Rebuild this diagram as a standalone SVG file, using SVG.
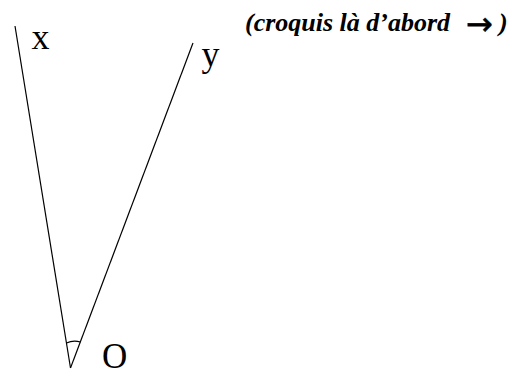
<svg xmlns="http://www.w3.org/2000/svg" width="518" height="376" viewBox="0 0 518 376">
<style>
.ln{stroke:#000;stroke-width:1.2;fill:none}
.lbl{font-family:"Liberation Serif",serif;font-size:36px;fill:#000}
.note{font-family:"Liberation Serif",serif;font-size:26px;font-weight:bold;font-style:italic;fill:#000}
.arr{font-family:"DejaVu Sans",sans-serif;font-size:32px;fill:#000}
</style>
<rect width="518" height="376" fill="#fff"/>
<g id="connectors">
<line class="ln" x1="15" y1="26" x2="70.5" y2="368"/>
<line class="ln" x1="193" y1="43" x2="70.5" y2="368"/>
<path class="ln" d="M66.5,343 Q73,340 80.5,342"/>
</g>
<g id="x"><text class="lbl" x="31.5" y="49">x</text></g>
<g id="y"><text class="lbl" x="201.5" y="66">y</text></g>
<g id="O"><text class="lbl" x="102" y="368" style="font-size:35px">O</text></g>
<g id="note">
<text class="note" x="245" y="31">(croquis là d’abord</text>
<text class="arr" x="466" y="35" stroke="#000" stroke-width="0.6">→</text>
<text class="note" x="499" y="31">)</text>
</g>
</svg>
